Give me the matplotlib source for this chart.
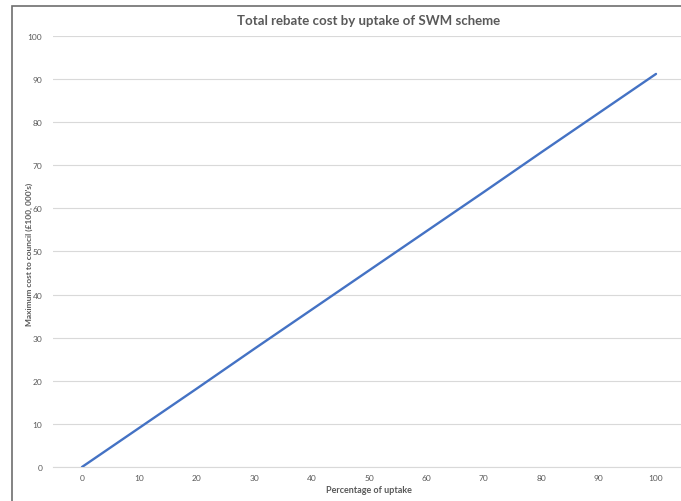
import numpy as np
import matplotlib
matplotlib.use('Agg')
import matplotlib.pyplot as plt
from matplotlib.patches import Rectangle

# Uptake (%) against maximum rebate cost (in £100,000s)
uptake = [0, 10, 20, 30, 40, 50, 60, 70, 80, 90, 100]
cost = [0, 9.1, 18.2, 27.4, 36.5, 45.6, 54.7, 63.8, 73.0, 82.1, 91.2]
yTicks = [0, 10, 20, 30, 40, 50, 60, 70, 80, 90, 100]

textGrey = '#595959'
plt.rcParams['font.family'] = ['Lato', 'DejaVu Sans']

fig = plt.figure(figsize=(6.81, 5.02), dpi=100)
W, H = 681.0, 502.0

# chart frame, only the top and left edges show
fig.patches.append(Rectangle((12 / W, -0.1), 1.2, (H - 7) / H + 0.1,
                             transform=fig.transFigure, fill=False,
                             edgecolor='#6e6e6e', linewidth=1.2, zorder=0))

# plot area runs a little past the right edge
ax = fig.add_axes([53.3 / W, 34 / H, 631.4 / W, 431 / H])
ax.set_facecolor('none')

xPos = np.arange(len(uptake))
ax.plot(xPos, cost, color='#4472C4', linewidth=1.7, solid_capstyle='round', zorder=3)

ax.set_xlim(-0.5, len(uptake) - 0.5)
ax.set_ylim(0, 100)
ax.set_xticks(xPos)
ax.set_xticklabels([str(u) for u in uptake])
ax.set_yticks(yTicks)
ax.set_yticklabels([str(t) for t in yTicks])
ax.tick_params(axis='both', length=0, labelsize=6, labelcolor=textGrey)
ax.tick_params(axis='x', pad=5)
ax.tick_params(axis='y', pad=8)

ax.grid(axis='y', color='#d9d9d9', linewidth=0.8)
ax.set_axisbelow(True)
for side in ['top', 'right', 'left']:
    ax.spines[side].set_visible(False)
ax.spines['bottom'].set_color('#d9d9d9')
ax.spines['bottom'].set_linewidth(0.8)

fig.text(369 / W, 1 - 21 / H, 'Total rebate cost by uptake of SWM scheme',
         ha='center', va='center', fontsize=9.5, fontweight='bold', color=textGrey)
fig.text(369 / W, 1 - 491 / H, 'Percentage of uptake',
         ha='center', va='center', fontsize=6.5, fontweight='bold', color=textGrey)
fig.text(29 / W, 1 - 254 / H, "Maximum cost to council (£100, 000's)",
         ha='center', va='center', rotation=90, fontsize=6, fontweight='bold', color=textGrey)

fig.savefig('out.png', dpi=100)
